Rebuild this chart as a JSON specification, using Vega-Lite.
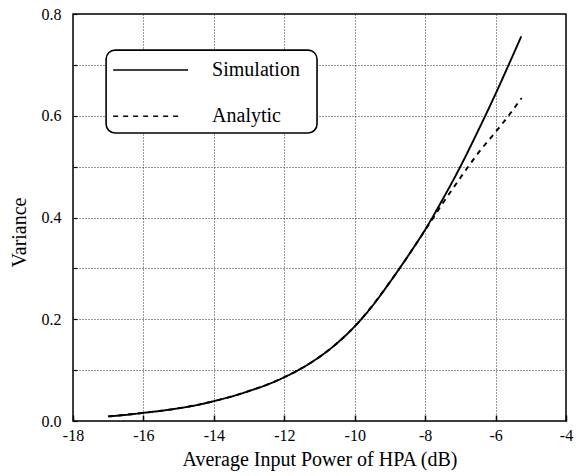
{
  "$schema": "https://vega.github.io/schema/vega-lite/v6.json",
  "width": 493,
  "height": 407,
  "autosize": {"type": "none"},
  "padding": {"left": 73, "top": 14, "right": 19, "bottom": 55},
  "background": "white",
  "config": {
    "font": "Liberation Serif",
    "view": {"stroke": "black", "strokeWidth": 1.5},
    "axis": {"labelColor": "black", "titleColor": "black", "labelFont": "Liberation Serif", "titleFont": "Liberation Serif", "titleFontWeight": "normal"}
  },
  "datasets": {
    "curves": [
      {"power": -17, "variance": 0.009, "series": "Simulation"},
      {"power": -16.5, "variance": 0.012, "series": "Simulation"},
      {"power": -16, "variance": 0.016, "series": "Simulation"},
      {"power": -15.5, "variance": 0.02, "series": "Simulation"},
      {"power": -15, "variance": 0.025, "series": "Simulation"},
      {"power": -14.5, "variance": 0.031, "series": "Simulation"},
      {"power": -14, "variance": 0.039, "series": "Simulation"},
      {"power": -13.5, "variance": 0.048, "series": "Simulation"},
      {"power": -13, "variance": 0.059, "series": "Simulation"},
      {"power": -12.5, "variance": 0.071, "series": "Simulation"},
      {"power": -12, "variance": 0.086, "series": "Simulation"},
      {"power": -11.5, "variance": 0.104, "series": "Simulation"},
      {"power": -11, "variance": 0.126, "series": "Simulation"},
      {"power": -10.5, "variance": 0.153, "series": "Simulation"},
      {"power": -10, "variance": 0.186, "series": "Simulation"},
      {"power": -9.5, "variance": 0.226, "series": "Simulation"},
      {"power": -9, "variance": 0.273, "series": "Simulation"},
      {"power": -8.5, "variance": 0.323, "series": "Simulation"},
      {"power": -8, "variance": 0.376, "series": "Simulation"},
      {"power": -7.5, "variance": 0.436, "series": "Simulation"},
      {"power": -7, "variance": 0.5, "series": "Simulation"},
      {"power": -6.5, "variance": 0.57, "series": "Simulation"},
      {"power": -6, "variance": 0.643, "series": "Simulation"},
      {"power": -5.5, "variance": 0.72, "series": "Simulation"},
      {"power": -5.27, "variance": 0.756, "series": "Simulation"},
      {"power": -17, "variance": 0.009, "series": "Analytic"},
      {"power": -16, "variance": 0.016, "series": "Analytic"},
      {"power": -15, "variance": 0.025, "series": "Analytic"},
      {"power": -14, "variance": 0.039, "series": "Analytic"},
      {"power": -13, "variance": 0.059, "series": "Analytic"},
      {"power": -12, "variance": 0.086, "series": "Analytic"},
      {"power": -11, "variance": 0.126, "series": "Analytic"},
      {"power": -10, "variance": 0.186, "series": "Analytic"},
      {"power": -9, "variance": 0.273, "series": "Analytic"},
      {"power": -8.5, "variance": 0.323, "series": "Analytic"},
      {"power": -8, "variance": 0.375, "series": "Analytic"},
      {"power": -7.5, "variance": 0.428, "series": "Analytic"},
      {"power": -7, "variance": 0.478, "series": "Analytic"},
      {"power": -6.5, "variance": 0.526, "series": "Analytic"},
      {"power": -6, "variance": 0.568, "series": "Analytic"},
      {"power": -5.6, "variance": 0.603, "series": "Analytic"},
      {"power": -5.26, "variance": 0.635, "series": "Analytic"}
    ],
    "legendBox": [
      {"x1": -17.06, "x2": -11.07, "y1": 0.566, "y2": 0.729}
    ],
    "legendItems": [
      {"series": "Simulation", "x1": -16.86, "x2": -14.73, "y": 0.69, "tx": -14.05},
      {"series": "Analytic", "x1": -16.86, "x2": -14.9, "y": 0.599, "tx": -14.05}
    ]
  },
  "layer": [
    {
      "data": {"name": "curves"},
      "mark": {"type": "line", "color": "black", "strokeWidth": 1.9, "interpolate": "monotone"},
      "encoding": {
        "x": {
          "field": "power", "type": "quantitative",
          "title": "Average Input Power of HPA (dB)",
          "scale": {"domain": [-18, -4], "nice": false, "zero": false},
          "axis": {
            "values": [-18, -17, -16, -15, -14, -13, -12, -11, -10, -9, -8, -7, -6, -5, -4],
            "labelExpr": "datum.value % 2 == 0 ? toString(datum.value) : ''",
            "labelOverlap": false, "labelFlush": false,
            "labelFont": "Liberation Serif", "labelFontSize": 16, "labelPadding": 12,
            "titleFont": "Liberation Serif", "titleFontWeight": "normal", "titleFontSize": 20, "titlePadding": 6,
            "grid": true, "gridColor": "#333", "gridDash": [1, 2], "gridWidth": 1, "gridOpacity": 1,
            "domain": false,
            "tickSize": -6, "tickColor": "black", "tickWidth": 1.5
          }
        },
        "y": {
          "field": "variance", "type": "quantitative",
          "title": "Variance",
          "scale": {"domain": [0, 0.8], "nice": false},
          "axis": {
            "values": [0, 0.1, 0.2, 0.3, 0.4, 0.5, 0.6, 0.7, 0.8],
            "labelExpr": "round(datum.value * 10) % 2 == 0 ? format(datum.value, '.1f') : ''",
            "labelOverlap": false, "labelFlush": false,
            "labelFont": "Liberation Serif", "labelFontSize": 16, "labelPadding": 16,
            "titleFont": "Liberation Serif", "titleFontWeight": "normal", "titleFontSize": 20, "titlePadding": 12,
            "titleY": 218,
            "grid": true, "gridColor": "#333", "gridDash": [1, 2], "gridWidth": 1, "gridOpacity": 1,
            "domain": false,
            "tickSize": -4, "tickColor": "black", "tickWidth": 1.2
          }
        },
        "strokeDash": {
          "field": "series", "type": "nominal",
          "scale": {"domain": ["Simulation", "Analytic"], "range": [[1, 0], [5, 5]]},
          "legend": null
        }
      }
    },
    {
      "data": {"name": "legendBox"},
      "mark": {"type": "rect", "fill": "white", "stroke": "black", "strokeWidth": 1.6, "cornerRadius": 9},
      "encoding": {
        "x": {"field": "x1", "type": "quantitative", "title": "Average Input Power of HPA (dB)"},
        "x2": {"field": "x2"},
        "y": {"field": "y1", "type": "quantitative", "title": "Variance"},
        "y2": {"field": "y2"}
      }
    },
    {
      "data": {"name": "legendItems"},
      "mark": {"type": "rule", "color": "black", "strokeWidth": 1.5},
      "encoding": {
        "x": {"field": "x1", "type": "quantitative", "title": "Average Input Power of HPA (dB)"},
        "x2": {"field": "x2"},
        "y": {"field": "y", "type": "quantitative", "title": "Variance"},
        "strokeDash": {
          "field": "series", "type": "nominal",
          "scale": {"domain": ["Simulation", "Analytic"], "range": [[1, 0], [5, 5]]},
          "legend": null
        }
      }
    },
    {
      "data": {"name": "legendItems"},
      "mark": {"type": "text", "align": "left", "baseline": "middle", "fontSize": 20, "font": "Liberation Serif", "color": "black"},
      "encoding": {
        "x": {"field": "tx", "type": "quantitative", "title": "Average Input Power of HPA (dB)"},
        "y": {"field": "y", "type": "quantitative", "title": "Variance"},
        "text": {"field": "series"}
      }
    }
  ]
}
